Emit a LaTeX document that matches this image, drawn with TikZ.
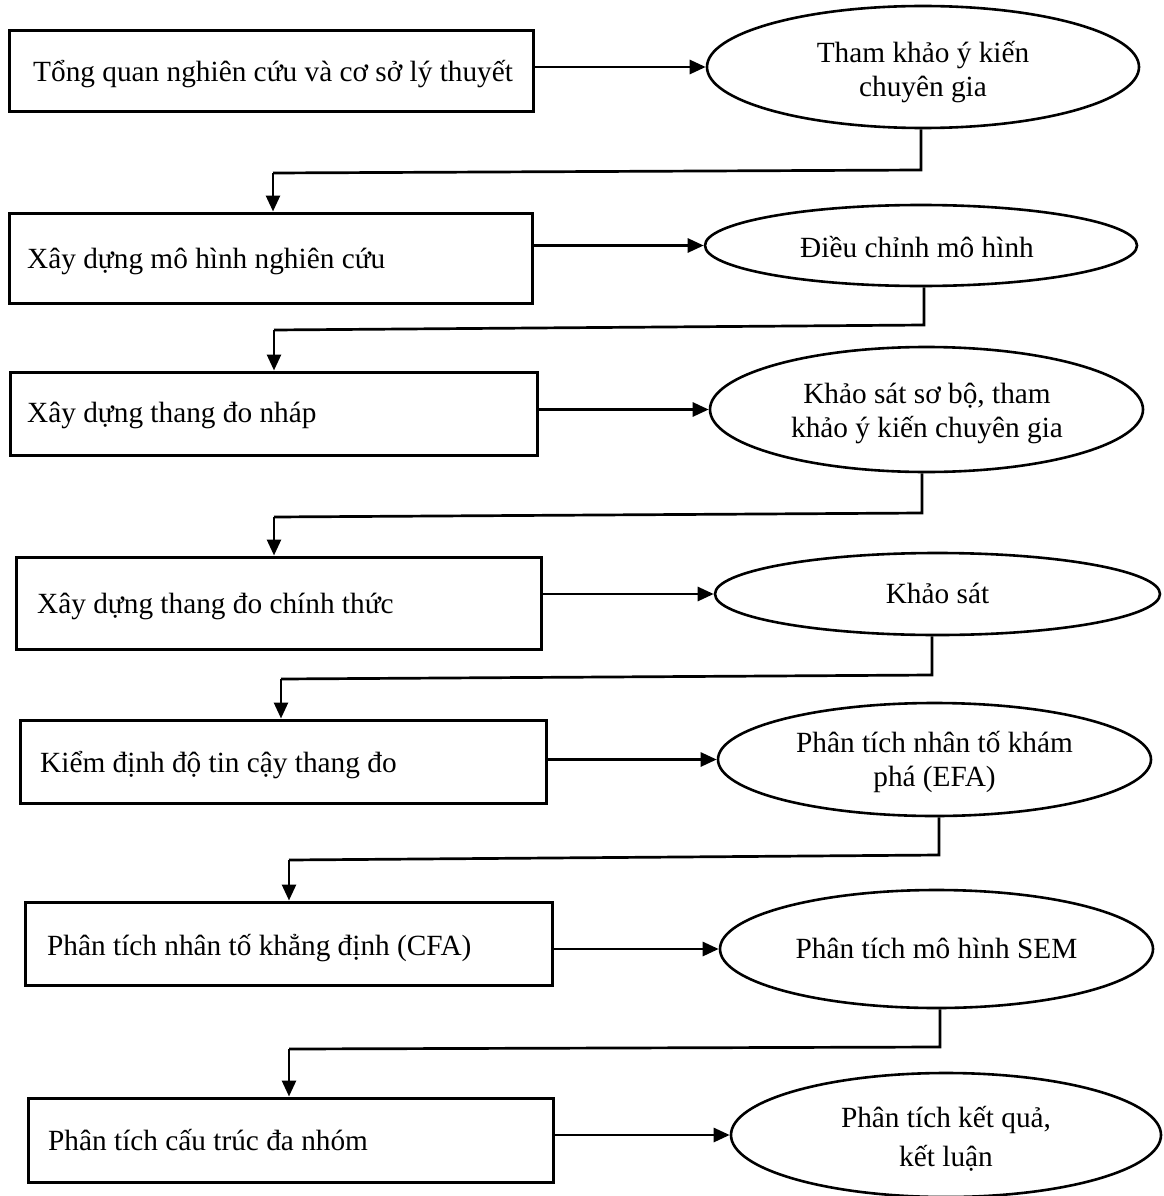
\documentclass[tikz,border=0pt]{standalone}
\usepackage{fontspec}
\setmainfont{Liberation Serif}
\usetikzlibrary{shapes.geometric,arrows.meta,calc}
\begin{document}
\begin{tikzpicture}[x=1pt,y=-1pt,
  box/.style={draw,line width=3pt,rectangle,inner sep=0pt},
  ell/.style={draw,line width=2.6pt,ellipse,inner sep=0pt},
  lbl/.style={anchor=base,inner sep=0pt,font=\fontsize{29.3}{35}\selectfont},
  lbll/.style={anchor=base west,inner sep=0pt,font=\fontsize{29.3}{35}\selectfont},
  arr/.style={line width=2.7pt,-{Triangle[length=16pt,width=14pt]}},
  con/.style={line width=2.7pt}]
\useasboundingbox (0,0) rectangle (1163,1196);
% row 1
\node[box,minimum width=524pt,minimum height=81pt] (b1) at (271,71) {};
\node[lbll] (t1) at (33,82) {Tổng quan nghiên cứu và cơ sở lý thuyết};
\node[ell,minimum width=432pt,minimum height=122pt] (e1) at (923,67) {};
\node[lbl] (u1a) at (923,63) {Tham khảo ý kiến};
\node[lbl] (u1b) at (923,97) {chuyên gia};
% row 2
\node[box,minimum width=523pt,minimum height=90pt] (b2) at (270.5,258) {};
\node[lbll] (t2) at (27,268) {Xây dựng mô hình nghiên cứu};
\node[ell,minimum width=432pt,minimum height=81pt] (e2) at (921,245.5) {};
\node[lbl] (u2) at (917,257) {Điều chỉnh mô hình};
% row 3
\node[box,minimum width=527pt,minimum height=83pt] (b3) at (273.5,413.5) {};
\node[lbll] (t3) at (27,422) {Xây dựng thang đo nháp};
\node[ell,minimum width=433pt,minimum height=125pt] (e3) at (926.5,409.5) {};
\node[lbl] (u3a) at (927,403) {Khảo sát sơ bộ, tham};
\node[lbl] (u3b) at (927,437) {khảo ý kiến chuyên gia};
% row 4
\node[box,minimum width=525pt,minimum height=92pt] (b4) at (278.5,603) {};
\node[lbll] (t4) at (37,613) {Xây dựng thang đo chính thức};
\node[ell,minimum width=445pt,minimum height=82pt] (e4) at (937.5,594) {};
\node[lbl] (u4) at (937.5,603) {Khảo sát};
% row 5
\node[box,minimum width=526pt,minimum height=83pt] (b5) at (283,761.5) {};
\node[lbll] (t5) at (40,772) {Kiểm định độ tin cậy thang đo};
\node[ell,minimum width=433pt,minimum height=113pt] (e5) at (934.5,759.5) {};
\node[lbl] (u5a) at (934.5,752) {Phân tích nhân tố khám};
\node[lbl] (u5b) at (934.5,786) {phá (EFA)};
% row 6
\node[box,minimum width=527pt,minimum height=83pt] (b6) at (288.5,943.5) {};
\node[lbll] (t6) at (47,955) {Phân tích nhân tố khẳng định (CFA)};
\node[ell,minimum width=433pt,minimum height=118pt] (e6) at (936.5,949) {};
\node[lbl] (u6) at (936.5,958) {Phân tích mô hình SEM};
% row 7
\node[box,minimum width=525pt,minimum height=84pt] (b7) at (290.5,1140) {};
\node[lbll] (t7) at (48,1150) {Phân tích cấu trúc đa nhóm};
\node[ell,minimum width=430pt,minimum height=124pt] (e7) at (946,1135) {};
\node[lbl] (u7a) at (946,1127) {Phân tích kết quả,};
\node[lbl] (u7b) at (946,1166) {kết luận};
% horizontal arrows
\draw[arr] (b1.east |- e1.west) -- (e1.west);
\draw[arr] (b2.east |- e2.west) -- (e2.west);
\draw[arr] (b3.east |- e3.west) -- (e3.west);
\draw[arr] (b4.east |- e4.west) -- (e4.west);
\draw[arr] (b5.east |- e5.west) -- (e5.west);
\draw[arr] (b6.east |- e6.west) -- (e6.west);
\draw[arr] (b7.east |- e7.west) -- (e7.west);
% return connectors: right turn (r) and left turn (c)
\coordinate (r1) at (921,170);  \coordinate (c1) at (273,173);
\coordinate (r2) at (924,325);  \coordinate (c2) at (274,330);
\coordinate (r3) at (922,513);  \coordinate (c3) at (274,517);
\coordinate (r4) at (932,675);  \coordinate (c4) at (281,679);
\coordinate (r5) at (939,855);  \coordinate (c5) at (289,860);
\coordinate (r6) at (940,1047); \coordinate (c6) at (289,1049);
\draw[con] (r1 |- e1.south) -- (r1) -- (c1);
\draw[arr] (c1) -- (c1 |- b2.north);
\draw[con] (r2 |- e2.south) -- (r2) -- (c2);
\draw[arr] (c2) -- (c2 |- b3.north);
\draw[con] (r3 |- e3.south) -- (r3) -- (c3);
\draw[arr] (c3) -- (c3 |- b4.north);
\draw[con] (r4 |- e4.south) -- (r4) -- (c4);
\draw[arr] (c4) -- (c4 |- b5.north);
\draw[con] (r5 |- e5.south) -- (r5) -- (c5);
\draw[arr] (c5) -- (c5 |- b6.north);
\draw[con] (r6 |- e6.south) -- (r6) -- (c6);
\draw[arr] (c6) -- (c6 |- b7.north);
\end{tikzpicture}
\end{document}
